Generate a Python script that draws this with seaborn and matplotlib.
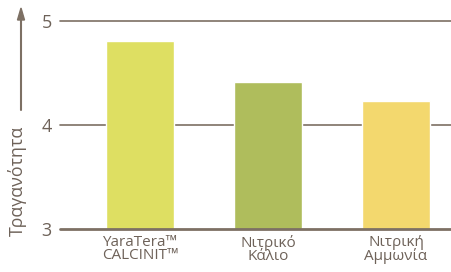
import pandas as pd
import seaborn as sns
import matplotlib.pyplot as plt

categories = ['YaraTera™\nCALCINIT™', 'Νιτρικό\nΚάλιο', 'Νιτρική\nΑμμωνία']
values = [4.81, 4.41, 4.23]
colors = ['#DEDF62', '#AFBD5C', '#F3D86E']
yticks = [3, 4, 5]

df = pd.DataFrame({'cat': categories, 'val': values})

sns.set_style('white')
plt.rcParams['font.family'] = ['Open Sans', 'DejaVu Sans']
txt = '#6e6259'
line = '#7d7064'

fig = plt.figure(figsize=(4.52, 2.72), dpi=100)
ax = fig.add_axes([60 / 452, 43 / 272, 392 / 452, 208 / 272])

sns.barplot(data=df, x='cat', y='val', hue='cat', palette=colors, legend=False,
            width=0.53, saturation=1, ax=ax, zorder=2)

ax.set_ylim(3, 5)
ax.set_xlim(-0.625, 2.4375)
for y in yticks[1:]:
    ax.axhline(y, color=line, lw=1.2, zorder=1, clip_on=False)
ax.axhline(3, color=line, lw=2, zorder=3, clip_on=False)

for s in ax.spines.values():
    s.set_visible(False)
ax.set_yticks(yticks)
ax.set_yticklabels([str(t) for t in yticks], fontsize=13, color=txt)
ax.tick_params(axis='y', length=0, pad=6)
ax.tick_params(axis='x', length=0, pad=4, labelsize=11, labelcolor=txt)
for lab in ax.get_xticklabels():
    lab.set_linespacing(0.9)
ax.set_xlabel('')
ax.set_ylabel('')

fig.text(17 / 452, (272 - 181) / 272, 'Τραγανότητα', rotation=90, ha='center', va='center',
         fontsize=12.8, color=txt)
fig.add_artist(plt.Line2D([21 / 452, 21 / 452], [(272 - 110) / 272, (272 - 14) / 272],
                          color=line, lw=1.5))
fig.patches.append(plt.Polygon([[17.5 / 452, (272 - 20) / 272], [24.5 / 452, (272 - 20) / 272],
                                [21 / 452, (272 - 8) / 272]], closed=True,
                               transform=fig.transFigure, color=line, figure=fig))

fig.savefig('out.png', dpi=100)
